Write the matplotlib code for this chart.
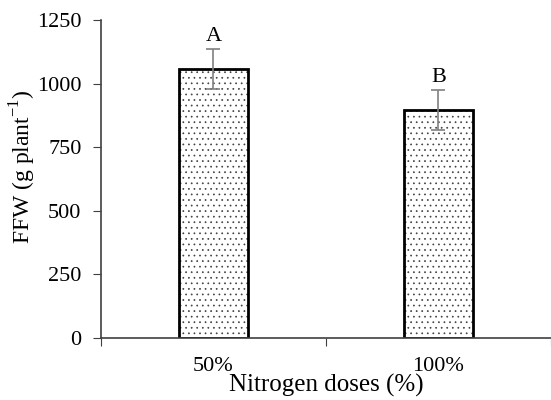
import matplotlib

matplotlib.use("Agg")
import matplotlib.pyplot as plt

plt.rcParams["font.family"] = ["Liberation Serif", "DejaVu Serif"]
plt.rcParams["mathtext.fontset"] = "custom"
plt.rcParams["mathtext.rm"] = "Liberation Serif"
plt.rcParams["hatch.linewidth"] = 0.5

categories = ["50%", "100%"]
ffw = [1057, 896]
ffw_err = [80, 80]
letters = ["A", "B"]

fig = plt.figure(figsize=(5.51, 4.0), dpi=100)
ax = fig.add_axes([0.1833, 0.155, 0.8167, 0.795])

x = list(range(len(categories)))
# dotted fill (hatch takes the edge colour, so draw the outline separately)
ax.bar(x, ffw, width=0.31, color="white", edgecolor="#404040", hatch="...", lw=0)
ax.bar(x, ffw, width=0.31, fill=False, edgecolor="black", lw=2)
ax.errorbar(x, ffw, yerr=ffw_err, fmt="none", ecolor="#808080", elinewidth=1.2,
            capsize=5, capthick=1.2)
for xi, y, e, lab in zip(x, ffw, ffw_err, letters):
    ax.text(xi, y + e + 12, lab, ha="center", va="bottom", fontsize=16)

ax.set_xlim(-0.5, 1.47)
ax.set_ylim(0, 1250)
ax.set_yticks([0, 250, 500, 750, 1000, 1250])
ax.set_xticks([-0.5, 0.5, 1.5])
ax.set_xticklabels([])
ax.set_xticks(x, minor=True)
ax.set_xticklabels(categories, minor=True, fontsize=16)
ax.tick_params(axis="x", which="minor", length=0, pad=14)
ax.tick_params(axis="x", which="major", direction="out", length=6, color="#404040")
ax.tick_params(axis="y", direction="out", length=6, pad=8, labelsize=16, color="#404040")

for s in ["top", "right"]:
    ax.spines[s].set_visible(False)
for s in ["left", "bottom"]:
    ax.spines[s].set_color("#404040")
    ax.spines[s].set_linewidth(1.2)

ax.set_ylabel("FFW (g plant$^{\\mathregular{-1}}$)", fontsize=17)
ax.yaxis.set_label_coords(-0.14, 0.54)
ax.set_xlabel("Nitrogen doses (%)", fontsize=18)
ax.xaxis.set_label_coords(0.5, -0.112)

fig.savefig("out.png", dpi=100)
